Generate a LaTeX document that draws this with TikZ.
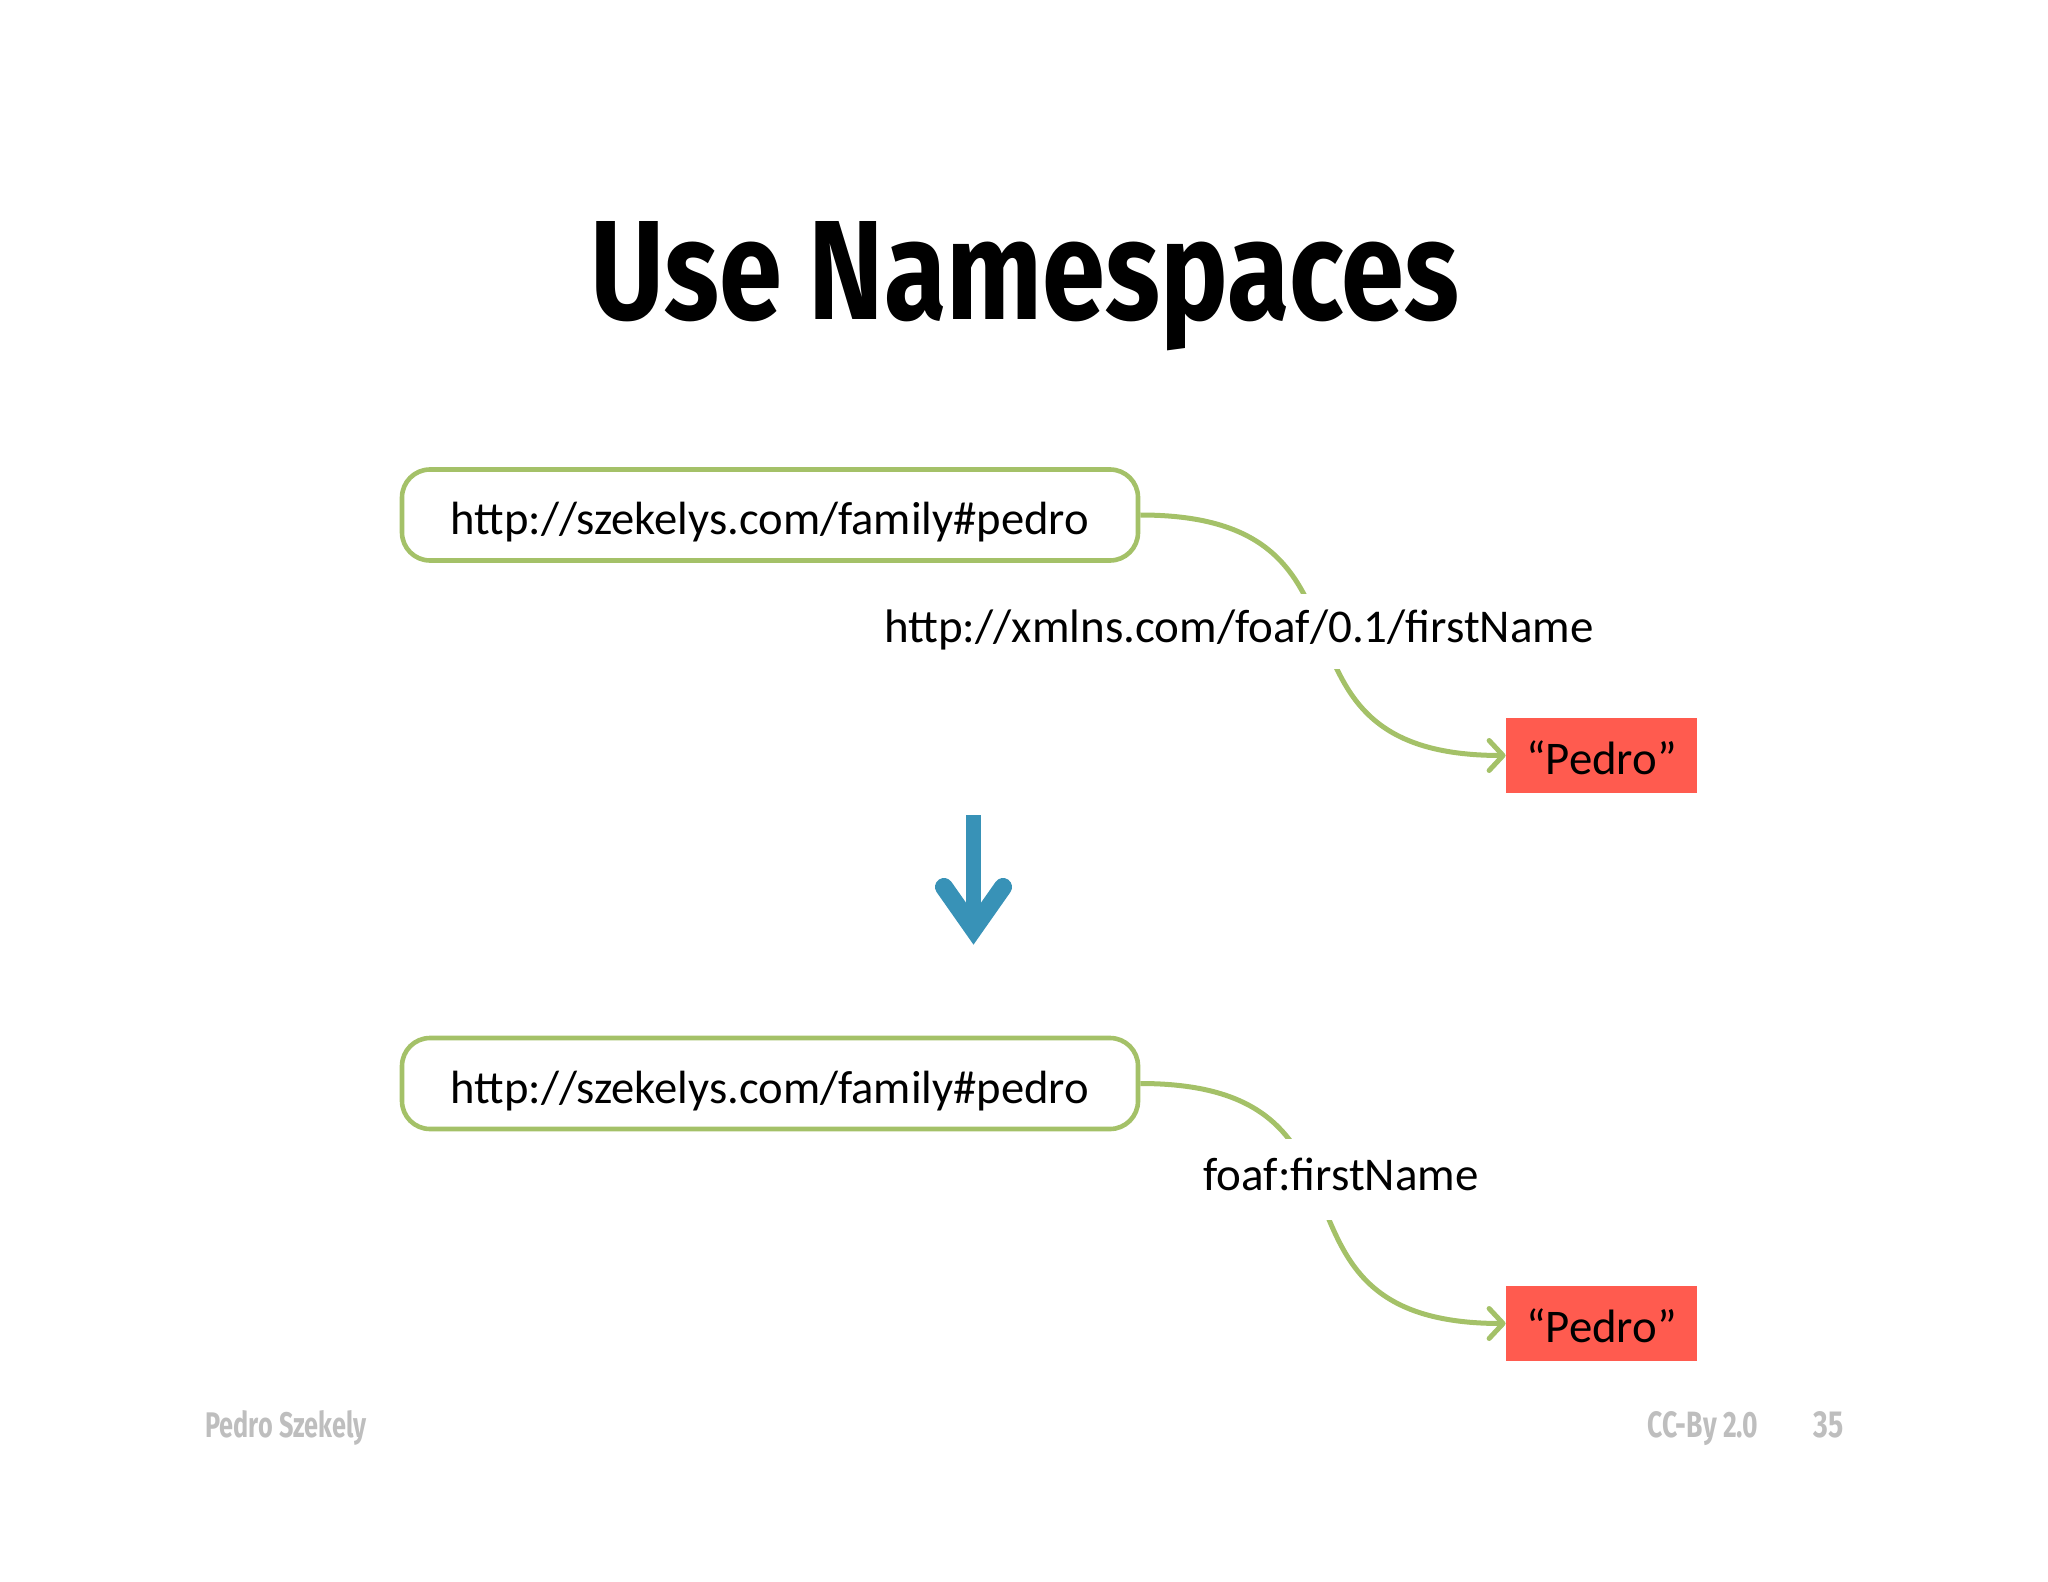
\documentclass[tikz,border=0pt]{standalone}
\usepackage{fontspec}
\setmainfont{Carlito}
\newfontfamily\titlefont{Fira Sans}
\usetikzlibrary{arrows.meta}
\definecolor{rdfgreen}{RGB}{164,193,104}
\definecolor{litred}{RGB}{255,91,79}
\definecolor{arrowblue}{RGB}{56,146,183}
\definecolor{footgray}{RGB}{190,190,190}
\tikzset{
  resbox/.style={draw=rdfgreen, line width=2.3pt, rounded corners=14pt, fill=white,
    minimum width=368pt, minimum height=45.5pt, inner sep=0pt,
    font=\fontsize{23.3}{27}\selectfont, text height=21pt, text depth=1pt},
  litbox/.style={fill=litred, minimum width=95.5pt, minimum height=37.5pt, inner sep=0pt,
    font=\fontsize{23.4}{27}\selectfont, text height=18.5pt, text depth=0pt},
  proplabel/.style={fill=white, inner xsep=2pt, inner ysep=7.5pt,
    font=\fontsize{23.5}{27}\selectfont, text height=17pt, text depth=5.5pt},
  propedge/.style={draw=rdfgreen, line width=2.5pt,
    -{Straight Barb[length=7pt,width=15pt,line cap=round,line join=round]}},
  footer/.style={text=footgray, inner sep=0pt, anchor=base west}
}
\begin{document}
\begin{tikzpicture}[x=0.5pt,y=-0.5pt]
\useasboundingbox (0,0) rectangle (2048,1582);
% title
\node[inner sep=0pt, anchor=base] (title) at (1025,320)
  {\resizebox{434pt}{49pt}{\titlefont\bfseries Use Namespaces}};
% upper graph
\node[resbox] (s1) at (770,515) {http://szekelys.com/family\#pedro};
\node[litbox] (o1) at (1601.5,755.5) {“Pedro”};
\draw[propedge] (s1.east) .. controls +(265,0) and +(-265,0) .. (o1.west);
\node[proplabel] (p1) at (1239,631) {http://xmlns.com/foaf/0.1/firstName};
% blue arrow
\coordinate (ta) at (973.5,815);
\coordinate (tb) at (973.5,929);
\coordinate (tl) at (944,887);
\coordinate (tr) at (1003,887);
\draw[arrowblue, line width=7.5pt] (ta) -- (973.5,928);
\draw[arrowblue, line width=9pt, line cap=round, line join=miter] (tl) -- (tb) -- (tr);
% lower graph
\node[resbox] (s2) at (770,1083.5) {http://szekelys.com/family\#pedro};
\node[litbox] (o2) at (1601.5,1323.5) {“Pedro”};
\draw[propedge] (s2.east) .. controls +(265,0) and +(-265,0) .. (o2.west);
\node[proplabel, inner ysep=9pt] (p2) at (1341,1179) {foaf:firstName};
% footer
\node[footer] (f1) at (205,1437) {\resizebox{80.5pt}{13.5pt}{\titlefont\bfseries\fontsize{19}{22}\selectfont Pedro Szekely}};
\node[footer] (f2) at (1647,1437) {\resizebox{55.5pt}{13pt}{\titlefont\bfseries\fontsize{19}{22}\selectfont CC-By 2.0}};
\node[footer] (f3) at (1813,1437) {\resizebox{15pt}{13pt}{\titlefont\bfseries\fontsize{19}{22}\selectfont 35}};
\end{tikzpicture}
\end{document}
